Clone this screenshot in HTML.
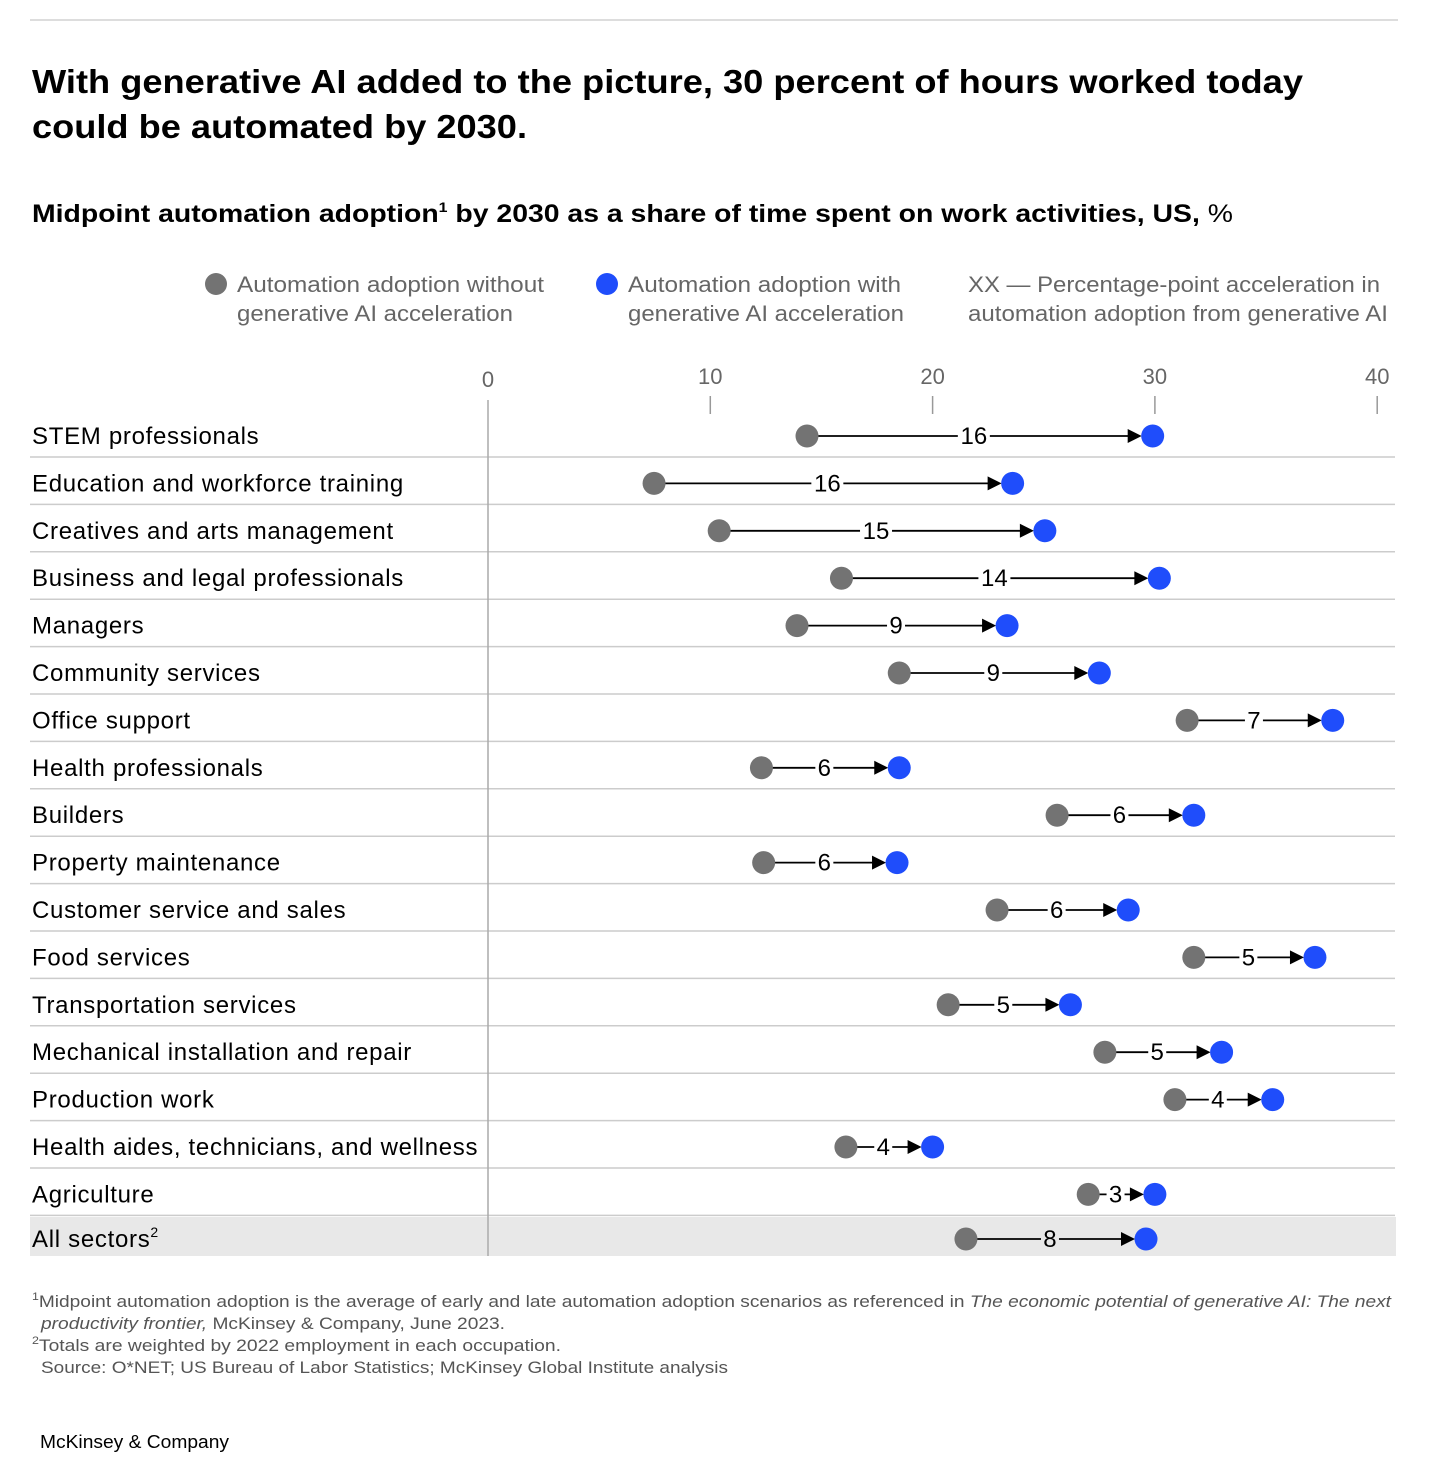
<!DOCTYPE html>
<html><head><meta charset="utf-8">
<style>
body{margin:0;background:#fff;font-family:"Liberation Sans",sans-serif;}
svg text{font-family:"Liberation Sans",sans-serif;}
</style></head>
<body>
<svg id="c" width="1456" height="1476" xmlns="http://www.w3.org/2000/svg">
<line x1="30" y1="20" x2="1398" y2="20" stroke="#bbb" stroke-width="1"/>
<text x="32" y="93" font-size="33" font-weight="bold" fill="#000" textLength="1271" lengthAdjust="spacingAndGlyphs">With generative AI added to the picture, 30 percent of hours worked today</text>
<text x="32" y="138" font-size="33" font-weight="bold" fill="#000" textLength="495" lengthAdjust="spacingAndGlyphs">could be automated by 2030.</text>
<text x="32" y="222" font-size="25" font-weight="bold" fill="#000" textLength="1201" lengthAdjust="spacingAndGlyphs">Midpoint automation adoption<tspan font-size="14" dy="-10">1</tspan><tspan dy="10"> by 2030 as a share of time spent on work activities, US, </tspan><tspan font-weight="normal">%</tspan></text>
<g font-size="22" fill="#666">
<circle cx="216" cy="284" r="11" fill="#737373"/>
<text x="237" y="292" textLength="307" lengthAdjust="spacingAndGlyphs">Automation adoption without</text>
<text x="237" y="321" textLength="276" lengthAdjust="spacingAndGlyphs">generative AI acceleration</text>
<circle cx="607" cy="284" r="11" fill="#1f4dfb"/>
<text x="628" y="292" textLength="273" lengthAdjust="spacingAndGlyphs">Automation adoption with</text>
<text x="628" y="321" textLength="276" lengthAdjust="spacingAndGlyphs">generative AI acceleration</text>
<text x="968" y="292" textLength="412" lengthAdjust="spacingAndGlyphs">XX — Percentage-point acceleration in</text>
<text x="968" y="321" textLength="420" lengthAdjust="spacingAndGlyphs">automation adoption from generative AI</text>
</g>
<g id="plot"></g>
<g font-size="17" fill="#555">
<text x="32" y="1307" textLength="1359" lengthAdjust="spacingAndGlyphs"><tspan font-size="11" dy="-7">1</tspan><tspan dy="7">Midpoint automation adoption is the average of early and late automation adoption scenarios as referenced in </tspan><tspan font-style="italic">The economic potential of generative AI: The next</tspan></text>
<text x="41" y="1329" textLength="464" lengthAdjust="spacingAndGlyphs"><tspan font-style="italic">productivity frontier,</tspan> McKinsey &amp; Company, June 2023.</text>
<text x="32" y="1351" textLength="529" lengthAdjust="spacingAndGlyphs"><tspan font-size="11" dy="-7">2</tspan><tspan dy="7">Totals are weighted by 2022 employment in each occupation.</tspan></text>
<text x="41" y="1373" textLength="687" lengthAdjust="spacingAndGlyphs">Source: O*NET; US Bureau of Labor Statistics; McKinsey Global Institute analysis</text>
</g>
<text x="40" y="1448" font-size="18" fill="#000" textLength="189" lengthAdjust="spacingAndGlyphs">McKinsey &amp; Company</text>
</svg>
<script>
const categories=["STEM professionals","Education and workforce training","Creatives and arts management","Business and legal professionals","Managers","Community services","Office support","Health professionals","Builders","Property maintenance","Customer service and sales","Food services","Transportation services","Mechanical installation and repair","Production work","Health aides, technicians, and wellness","Agriculture","All sectors"];
const withoutGenAI=[14.35,7.47,10.4,15.9,13.9,18.5,31.45,12.3,25.6,12.4,22.9,31.75,20.7,27.75,30.9,16.1,27.0,21.5];
const withGenAI=[29.9,23.6,25.05,30.2,23.35,27.5,38.0,18.5,31.75,18.4,28.8,37.2,26.2,33.0,35.3,20.0,30.0,29.6];
const accelLabels=["16","16","15","14","9","9","7","6","6","6","6","5","5","5","4","4","3","8"];
const tickValues=[0,10,20,30,40];
const NS="http://www.w3.org/2000/svg";
const g=document.getElementById('plot');
const x0=488,pxPer=22.23;
function xs(v){return x0+v*pxPer;}
function ys(i){return i<17?436+i*47.4:1239;}
function mk(t,a,p){const e=document.createElementNS(NS,t);for(const k in a)e.setAttribute(k,a[k]);(p||g).appendChild(e);return e;}
const band=mk('rect',{x:30,y:1217,width:1366,height:39,fill:'#e8e8e8'});


for(let i=0;i<17;i++){
  const l=mk('line',{x1:30,x2:1395,y1:ys(i)+21,y2:ys(i)+21,stroke:'#ccc','stroke-width':1.5});
  
  
}
const ax=mk('line',{x1:x0,x2:x0,y1:400,y2:1256,stroke:'#aaa','stroke-width':1.5});


tickValues.forEach(v=>{
  const t=mk('text',{x:xs(v),y:v===0?387:384,'text-anchor':'middle','font-size':22,fill:'#666'});
  t.textContent=v;
  
  
  if(v>0){const tk=mk('line',{x1:xs(v),x2:xs(v),y1:396,y2:414,stroke:'#999','stroke-width':1.5});
  
  }
});
categories.forEach((c,i)=>{
  const y=ys(i);
  const t=mk('text',{x:32,y:y+8,'font-size':24,fill:'#000','letter-spacing':0.7});
  t.textContent=c;
  if(i===17){const s=document.createElementNS(NS,'tspan');s.setAttribute('font-size','14');s.setAttribute('dy','-10');s.textContent='2';t.appendChild(s);}
  
  
  const a=xs(withoutGenAI[i]),b=xs(withGenAI[i]);
  const ln=mk('line',{x1:a,x2:b-20,y1:y,y2:y,stroke:'#000','stroke-width':1.8});
  
  
  const ar=mk('polygon',{points:`${b-11},${y} ${b-25},${y-7} ${b-25},${y+7}`,fill:'#000'});
  
  
  const mid=(a+b-12)/2;
  const lw=accelLabels[i].length*14+4;
  const bg=mk('rect',{x:mid-lw/2,y:y-12,width:lw,height:24,fill:i===17?'#e8e8e8':'#fff'});
  
  
  const lt=mk('text',{x:mid,y:y+8,'text-anchor':'middle','font-size':24,fill:'#000'});
  lt.textContent=accelLabels[i];
  
  
  const d1=mk('circle',{cx:a,cy:y,r:11.5,fill:'#737373'});
  
  
  const d2=mk('circle',{cx:b,cy:y,r:11.5,fill:'#1f4dfb'});
  
  
});
</script>
</body></html>
